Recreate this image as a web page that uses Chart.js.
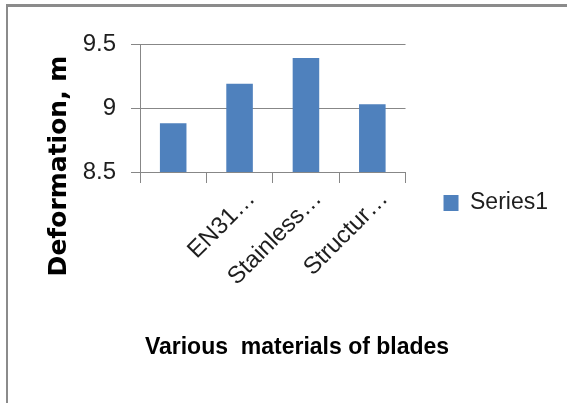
<!DOCTYPE html>
<html>
<head>
<meta charset="utf-8">
<script src="https://cdn.jsdelivr.net/npm/chart.js@4"></script>
<style>
  html, body { margin: 0; padding: 0; background: #fff; overflow: hidden; }
  #wrap { position: relative; width: 567px; height: 403px; }
  #chart { position: absolute; left: 0; top: 0; }
  /* outer frame: only the top and left edges are visible */
  #frame {
    position: absolute; left: 6px; top: 4px; right: -10px; bottom: -10px;
    border-top: 3px solid #8b8b8b; border-left: 2px solid #8b8b8b;
    pointer-events: none;
  }
</style>
</head>
<body>
<div id="wrap">
  <canvas id="chart" width="567" height="403" style="width:567px;height:403px"></canvas>
  <div id="frame"></div>
</div>
<script>
const categories = ['', 'EN31…', 'Stainless…', 'Structur…'];
const deformation = [8.88, 9.19, 9.39, 9.03];
const yTicks = [8.5, 9, 9.5];
const seriesName = 'Series1';
const xTitle = 'Various  materials of blades';
const yTitle = 'Deformation, m';

const gridGrey = '#878787';
const textDark = '#1e1e1e';
const labelFont = 'Liberation Sans';

// axis titles sit where the original layout put them, not centred on the plot
const axisTitles = {
    id: 'axisTitles',
    afterDraw(chart) {
        const ctx = chart.ctx;
        ctx.save();
        ctx.fillStyle = '#000';
        ctx.textAlign = 'center';
        ctx.textBaseline = 'alphabetic';
        ctx.font = 'bold 23px "Liberation Sans"';
        ctx.fillText(xTitle, 297, 354);

        ctx.translate(66, 166);
        ctx.rotate(-Math.PI / 2);
        ctx.font = 'bold 25px "DejaVu Sans"';
        ctx.fillText(yTitle, 0, 0);
        ctx.restore();
    }
};

const ctx = document.getElementById('chart').getContext('2d');

new Chart(ctx, {
    type: 'bar',
    data: {
        labels: categories,
        datasets: [{
            label: seriesName,
            data: deformation,
            backgroundColor: '#4f81bd',
            borderWidth: 0,
            categoryPercentage: 1,
            barPercentage: 0.4
        }]
    },
    options: {
        responsive: false,
        animation: false,
        devicePixelRatio: 1,
        layout: {
            padding: { top: 44, bottom: 41, left: 0, right: 9 }
        },
        plugins: {
            tooltip: { enabled: false },
            legend: {
                position: 'right',
                maxWidth: 220,
                labels: {
                    boxWidth: 15,
                    boxHeight: 16,
                    padding: 38,
                    color: textDark,
                    font: { family: labelFont, size: 23 }
                }
            }
        },
        scales: {
            x: {
                afterFit(scale) { scale.height = 190; },
                grid: {
                    offset: true,
                    drawOnChartArea: false,
                    drawTicks: true,
                    tickLength: 11,
                    color: gridGrey
                },
                border: { display: true, color: gridGrey },
                ticks: {
                    autoSkip: false,
                    minRotation: 45,
                    maxRotation: 45,
                    labelOffset: 12,
                    padding: 2,
                    color: textDark,
                    font: { family: labelFont, size: 24 }
                }
            },
            y: {
                min: 8.5,
                max: 9.5,
                afterFit(scale) { scale.width = 140; },
                afterBuildTicks(scale) {
                    scale.ticks = yTicks.map(v => ({ value: v }));
                },
                grid: {
                    color: gridGrey,
                    drawTicks: true,
                    tickLength: 9
                },
                border: { display: true, color: gridGrey },
                ticks: {
                    padding: 15,
                    color: textDark,
                    font: { family: labelFont, size: 24 },
                    callback: value => `${value}`
                }
            }
        }
    },
    plugins: [axisTitles]
});
</script>
</body>
</html>
